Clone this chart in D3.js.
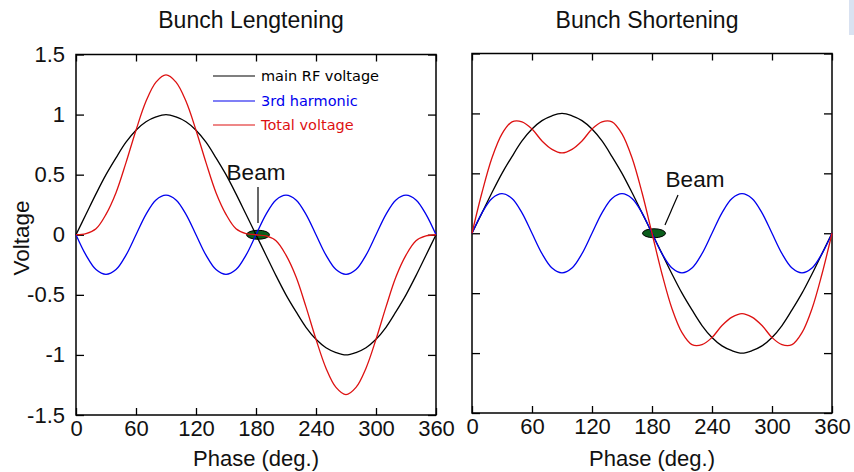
<!DOCTYPE html>
<html lang="en">
<head>
<meta charset="utf-8">
<title>Bunch Lengthening / Shortening</title>
<script src="https://cdn.jsdelivr.net/npm/d3@7"></script>
<style>
	body { margin: 0; background: #fff; }
	text { font-family: "Liberation Sans", Arial, sans-serif; }
	.legend text { font-family: "DejaVu Sans", sans-serif; }
</style>
</head>
<body>
<div id="chart"></div>
<script>
	var phase = [0, 10, 20, 30, 40, 50, 60, 70, 80, 90, 100, 110, 120, 130, 140, 150, 160, 170, 180,
		190, 200, 210, 220, 230, 240, 250, 260, 270, 280, 290, 300, 310, 320, 330, 340, 350, 360];

	var mainRF = [0, 0.17, 0.34, 0.5, 0.64, 0.77, 0.87, 0.94, 0.98, 1, 0.98, 0.94, 0.87, 0.77, 0.64, 0.5, 0.34, 0.17, 0,
		-0.17, -0.34, -0.5, -0.64, -0.77, -0.87, -0.94, -0.98, -1, -0.98, -0.94, -0.87, -0.77, -0.64, -0.5, -0.34, -0.17, 0];

	var harmLeft = [0, -0.17, -0.29, -0.33, -0.29, -0.17, 0, 0.17, 0.29, 0.33, 0.29, 0.17, 0, -0.17, -0.29, -0.33, -0.29, -0.17, 0,
		0.17, 0.29, 0.33, 0.29, 0.17, 0, -0.17, -0.29, -0.33, -0.29, -0.17, 0, 0.17, 0.29, 0.33, 0.29, 0.17, 0];

	var totalLeft = [0, 0.01, 0.05, 0.17, 0.35, 0.6, 0.87, 1.11, 1.27, 1.33, 1.27, 1.11, 0.87, 0.6, 0.35, 0.17, 0.05, 0.01, 0,
		-0.01, -0.05, -0.17, -0.35, -0.6, -0.87, -1.11, -1.27, -1.33, -1.27, -1.11, -0.87, -0.6, -0.35, -0.17, -0.05, -0.01, 0];

	var harmRight = [0, 0.17, 0.29, 0.33, 0.29, 0.17, 0, -0.17, -0.29, -0.33, -0.29, -0.17, 0, 0.17, 0.29, 0.33, 0.29, 0.17, 0,
		-0.17, -0.29, -0.33, -0.29, -0.17, 0, 0.17, 0.29, 0.33, 0.29, 0.17, 0, -0.17, -0.29, -0.33, -0.29, -0.17, 0];

	var totalRight = [0, 0.34, 0.63, 0.83, 0.93, 0.93, 0.87, 0.77, 0.7, 0.67, 0.7, 0.77, 0.87, 0.93, 0.93, 0.83, 0.63, 0.34, 0,
		-0.34, -0.63, -0.83, -0.93, -0.93, -0.87, -0.77, -0.7, -0.67, -0.7, -0.77, -0.87, -0.93, -0.93, -0.83, -0.63, -0.34, 0];

	var xTicks = [0, 60, 120, 180, 240, 300, 360];
	var yTicks = [-1.5, -1, -0.5, 0, 0.5, 1, 1.5];
	var yTickLabels = ["-1.5", "-1", "-0.5", "0", "0.5", "1", "1.5"];
	var legendNames = ["main RF voltage", "3rd harmonic", "Total voltage"];
	var titles = ["Bunch Lengtening", "Bunch Shortening"];
	var beamPhase = 180;

	var colors = { main: "#000000", harm: "#0000ee", total: "#dd1111" };

	var width = 854, height = 472;

	var svg = d3.select("#chart")
		.append("svg")
		.attr("width", width)
		.attr("height", height);

	svg.append("rect")
		.attr("x", 849).attr("y", 0)
		.attr("width", 5).attr("height", 35)
		.attr("fill", "#d9e2f1");

	var panels = [
		{ left: 76, right: 436, top: 54.5, bottom: 415, harm: harmLeft, total: totalLeft, labels: true, title: titles[0],
			beamLabel: [256, 180], beamLine: [[258, 187], [258, 223]], xlabel: 256 },
		{ left: 472, right: 832, top: 53.5, bottom: 413, harm: harmRight, total: totalRight, labels: false, title: titles[1],
			beamLabel: [695, 187], beamLine: [[678, 195], [665, 225]], xlabel: 652 }
	];

	panels.forEach(function (p, i) {
		var x = d3.scaleLinear().domain([0, 360]).range([p.left, p.right]);
		var y = d3.scaleLinear().domain([-1.5, 1.5]).range([p.bottom, p.top]);

		// bottom axis with inward ticks
		var gx = svg.append("g")
			.attr("transform", "translate(0," + p.bottom + ")")
			.call(d3.axisBottom(x).tickValues(xTicks).tickSize(-7).tickPadding(5).tickFormat(d3.format("d")));
		gx.selectAll("text").attr("font-size", 22).attr("fill", "#111");

		svg.append("g")
			.attr("transform", "translate(0," + p.top + ")")
			.call(d3.axisTop(x).tickValues(xTicks).tickSize(-7).tickFormat(""));

		var gy = svg.append("g")
			.attr("transform", "translate(" + p.left + ",0)")
			.call(d3.axisLeft(y).tickValues(yTicks).tickSize(-8).tickPadding(11)
				.tickFormat(function (d, k) { return p.labels ? yTickLabels[k] : ""; }));
		gy.selectAll("text").attr("font-size", 22).attr("fill", "#111");

		svg.append("g")
			.attr("transform", "translate(" + p.right + ",0)")
			.call(d3.axisRight(y).tickValues(yTicks).tickSize(-8).tickFormat(""));

		svg.selectAll(".domain").remove();
		svg.selectAll(".tick line").attr("stroke", "#000").attr("stroke-width", 1.3);

		// frame
		svg.append("rect")
			.attr("x", p.left).attr("y", p.top)
			.attr("width", p.right - p.left).attr("height", p.bottom - p.top)
			.attr("fill", "none").attr("stroke", "#000").attr("stroke-width", 1.5);

		// beam marker under the curves
		svg.append("ellipse")
			.attr("cx", x(beamPhase) + 2).attr("cy", y(0))
			.attr("rx", 11.5).attr("ry", 4.5)
			.attr("fill", "#0b5e1c").attr("stroke", "#000").attr("stroke-width", 1);

		var line = d3.line()
			.x(function (d, k) { return x(phase[k]); })
			.y(function (d) { return y(d); })
			.curve(d3.curveCatmullRom);

		[[mainRF, colors.main], [p.harm, colors.harm], [p.total, colors.total]].forEach(function (s) {
			svg.append("path")
				.datum(s[0])
				.attr("fill", "none")
				.attr("stroke", s[1])
				.attr("stroke-width", 1.3)
				.attr("d", line);
		});

		// beam label
		svg.append("text")
			.attr("x", p.beamLabel[0]).attr("y", p.beamLabel[1])
			.attr("text-anchor", "middle").attr("font-size", 22.5).attr("fill", "#111")
			.text("Beam");
		svg.append("line")
			.attr("x1", p.beamLine[0][0]).attr("y1", p.beamLine[0][1])
			.attr("x2", p.beamLine[1][0]).attr("y2", p.beamLine[1][1])
			.attr("stroke", "#000").attr("stroke-width", 1.2);

		svg.append("text")
			.attr("x", (p.left + p.right) / 2 - 5).attr("y", 28)
			.attr("text-anchor", "middle").attr("font-size", 23).attr("fill", "#111")
			.text(p.title);

		svg.append("text")
			.attr("x", p.xlabel).attr("y", 466)
			.attr("text-anchor", "middle").attr("font-size", 22).attr("fill", "#111")
			.text("Phase (deg.)");
	});

	svg.append("text")
		.attr("transform", "translate(29,238) rotate(-90)")
		.attr("text-anchor", "middle").attr("font-size", 22.5).attr("fill", "#111")
		.text("Voltage");

	// legend
	var legend = svg.append("g").attr("class", "legend");
	var legendColors = [colors.main, colors.harm, colors.total];
	var legendY = [76, 101, 125];
	legendNames.forEach(function (name, k) {
		legend.append("line")
			.attr("x1", 213).attr("x2", 255)
			.attr("y1", legendY[k]).attr("y2", legendY[k])
			.attr("stroke", legendColors[k]).attr("stroke-width", 1.2);
		legend.append("text")
			.attr("x", 261).attr("y", legendY[k]).attr("dy", "0.36em")
			.attr("font-size", 14.5).attr("fill", legendColors[k])
			.text(name);
	});
</script>
</body>
</html>
